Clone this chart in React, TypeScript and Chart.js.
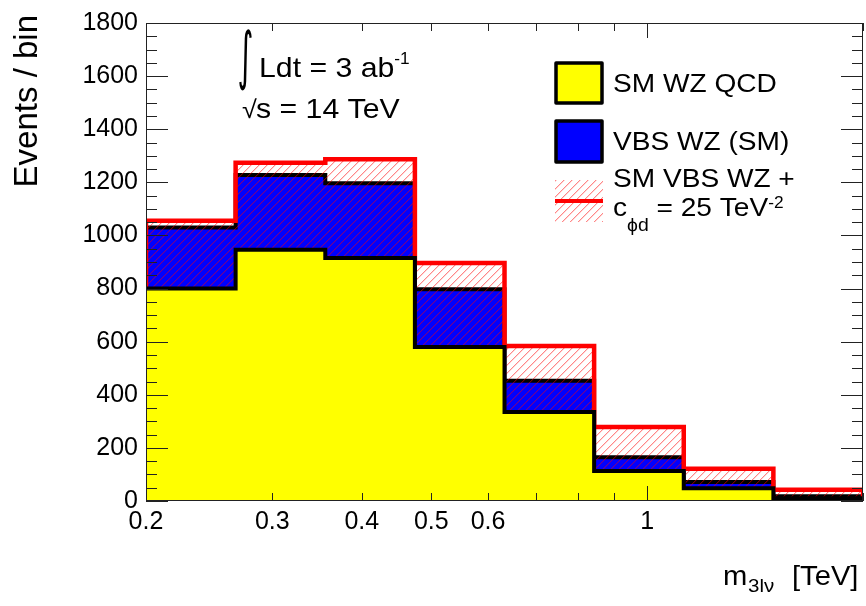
import React, { useEffect, useRef } from 'react';
import { Chart, registerables } from 'chart.js';

Chart.register(...registerables);

// ---- data ----
const binEdges = [0.2, 0.2667, 0.3557, 0.4743, 0.6325, 0.8434, 1.1247, 1.4998, 2.0];
const qcdWZ = [800, 946, 915, 580, 335, 113, 48, 10];
const vbsWZsm = [230, 282, 282, 217, 118, 52, 24, 8];
const vbsWZeft = [255, 328, 372, 316, 249, 166, 73, 32];
const xTickLabels = [0.2, 0.3, 0.4, 0.5, 0.6, 1];
const xMinorTicks = [0.3, 0.4, 0.5, 0.6, 0.7, 0.8, 0.9, 2];
const xMajorTicks = [1];
const yMin = 0;
const yMax = 1800;
const yMajorStep = 200;
const yMinorStep = 50;

const FONT = "'Liberation Sans', Arial, Helvetica, sans-serif";
const SX = 1.08;

type Seg = { s: string; size: number; dy?: number; x?: number };

function drawSegs(ctx: CanvasRenderingContext2D, x: number, y: number, segs: Seg[]) {
  let cx = x;
  for (const g of segs) {
    if (g.x !== undefined) cx = g.x;
    ctx.save();
    ctx.font = `${g.size}px ${FONT}`;
    ctx.textAlign = 'left';
    ctx.textBaseline = 'alphabetic';
    ctx.fillStyle = '#000';
    ctx.translate(cx, y + (g.dy || 0));
    ctx.scale(SX, 1);
    ctx.fillText(g.s, 0, 0);
    cx += ctx.measureText(g.s).width * SX;
    ctx.restore();
  }
  return cx;
}

function makeHatch(): CanvasPattern | string {
  const size = 8;
  const c = document.createElement('canvas');
  c.width = size;
  c.height = size;
  const g = c.getContext('2d');
  if (!g) return 'rgba(255,0,0,0.2)';
  const img = g.createImageData(size, size);
  const put = (px: number, py: number, a: number) => {
    const xx = ((px % size) + size) % size;
    const yy = ((py % size) + size) % size;
    const k = (yy * size + xx) * 4;
    img.data[k] = 255;
    img.data[k + 1] = 0;
    img.data[k + 2] = 0;
    img.data[k + 3] = Math.max(img.data[k + 3], a);
  };
  for (let i = 0; i < size; i++) {
    put(i, size - 1 - i, 120);
    put(i + 1, size - 1 - i, 40);
  }
  g.putImageData(img, 0, 0);
  return g.createPattern(c, 'repeat') || 'rgba(255,0,0,0.2)';
}

function histPts(vals: number[], closeLeft: boolean, closeRight: boolean) {
  const pts: { x: number; y: number }[] = [];
  const n = binEdges.length - 1;
  if (closeLeft) pts.push({ x: binEdges[0], y: 0 });
  vals.forEach((v, i) => pts.push({ x: binEdges[i], y: v }));
  pts.push({ x: binEdges[n], y: vals[vals.length - 1] });
  if (closeRight) pts.push({ x: binEdges[n], y: 0 });
  return pts;
}

export default function App() {
  const ref = useRef<HTMLCanvasElement>(null);

  useEffect(() => {
    const canvas = ref.current;
    if (!canvas) return;
    const hatch = makeHatch();
    const smTotal = qcdWZ.map((v, i) => v + vbsWZsm[i]);
    const eftTotal = qcdWZ.map((v, i) => v + vbsWZeft[i]);

    const rootStyle = {
      id: 'rootStyle',
      afterDatasetsDraw(chart: any) {
        const { ctx, chartArea: a, scales } = chart;
        const xs = scales.x;
        const ys = scales.y;
        ctx.save();
        ctx.strokeStyle = '#222';
        ctx.lineWidth = 1;
        for (let v = yMin; v <= yMax; v += yMinorStep) {
          const y = Math.round(ys.getPixelForValue(v)) + 0.5;
          const len = v % yMajorStep === 0 ? 22 : 11;
          ctx.beginPath();
          ctx.moveTo(a.left, y);
          ctx.lineTo(a.left + len, y);
          ctx.moveTo(a.right, y);
          ctx.lineTo(a.right - len, y);
          ctx.stroke();
        }
        const allX = [...xMinorTicks.map((v) => [v, 8]), ...xMajorTicks.map((v) => [v, 15])];
        for (const [v, len] of allX) {
          const x = Math.round(xs.getPixelForValue(v)) + 0.5;
          ctx.beginPath();
          ctx.moveTo(x, a.bottom);
          ctx.lineTo(x, a.bottom - len);
          ctx.moveTo(x, a.top);
          ctx.lineTo(x, a.top + len);
          ctx.stroke();
        }
        ctx.strokeRect(Math.round(a.left) + 0.5, Math.round(a.top) + 0.5,
          Math.round(a.right - a.left) - 1, Math.round(a.bottom - a.top) - 1);
        ctx.restore();
      },
      afterDraw(chart: any) {
        const ctx: CanvasRenderingContext2D = chart.ctx;
        ctx.save();
        // y axis title
        ctx.save();
        ctx.font = `33px ${FONT}`;
        ctx.fillStyle = '#000';
        ctx.textAlign = 'right';
        ctx.textBaseline = 'alphabetic';
        ctx.translate(37, 15);
        ctx.rotate(-Math.PI / 2);
        ctx.fillText('Events / bin', 0, 0);
        ctx.restore();

        // x axis title
        drawSegs(ctx, 723, 585, [
          { s: 'm', size: 27 },
          { s: '3lν', size: 19, dy: 7, x: 748 },
          { s: '[TeV]', size: 27, x: 792 },
        ]);

        // integral sign, fitted into its box
        ctx.save();
        ctx.font = `40px 'DejaVu Sans', ${FONT}`;
        const m = ctx.measureText('∫');
        const gh = m.actualBoundingBoxAscent + m.actualBoundingBoxDescent;
        const gw = m.actualBoundingBoxLeft + m.actualBoundingBoxRight;
        const tx0 = 239, tx1 = 252, ty0 = 28, ty1 = 91;
        ctx.translate(tx0, ty0);
        ctx.scale((tx1 - tx0) / gw, (ty1 - ty0) / gh);
        ctx.fillStyle = '#000';
        ctx.textBaseline = 'alphabetic';
        ctx.fillText('∫', m.actualBoundingBoxLeft, m.actualBoundingBoxAscent);
        ctx.restore();

        drawSegs(ctx, 259, 77, [
          { s: 'Ldt = 3 ab', size: 28 },
          { s: '-1', size: 16, dy: -13 },
        ]);
        drawSegs(ctx, 242, 118, [
          { s: '√', size: 25 },
          { s: 's = 14 TeV', size: 28, x: 256 },
        ]);

        // legend
        const bx = 556, bw = 46;
        ctx.lineWidth = 3.5;
        ctx.strokeStyle = '#000';
        ctx.lineJoin = 'round';
        ctx.fillStyle = '#ffff00';
        ctx.fillRect(bx, 63, bw, 40);
        ctx.strokeRect(bx, 63, bw, 40);
        ctx.fillStyle = '#0000ff';
        ctx.fillRect(bx, 121, bw, 41);
        ctx.strokeRect(bx, 121, bw, 41);
        ctx.fillStyle = hatch as any;
        ctx.fillRect(bx - 1, 180, bw + 2, 42);
        ctx.strokeStyle = '#ff0000';
        ctx.lineWidth = 4;
        ctx.beginPath();
        ctx.moveTo(bx - 1, 201);
        ctx.lineTo(bx + bw + 1, 201);
        ctx.stroke();

        const lx = 613;
        drawSegs(ctx, lx, 92, [{ s: 'SM WZ QCD', size: 26 }]);
        drawSegs(ctx, lx, 150, [{ s: 'VBS WZ (SM)', size: 26 }]);
        drawSegs(ctx, lx, 187, [{ s: 'SM VBS WZ +', size: 26 }]);
        drawSegs(ctx, lx, 216, [
          { s: 'c', size: 26 },
          { s: 'ϕd', size: 18, dy: 15 },
          { s: ' = 25 TeV', size: 26 },
          { s: '-2', size: 16, dy: -8 },
        ]);
        ctx.restore();
      },
    };

    const lineCommon = {
      stepped: 'before' as const,
      fill: 'origin' as const,
      pointRadius: 0,
      pointHoverRadius: 0,
      tension: 0,
      borderJoinStyle: 'miter' as const,
      borderCapStyle: 'butt' as const,
    };

    const chart = new Chart(canvas, {
      type: 'line',
      data: {
        datasets: [
          {
            ...lineCommon,
            label: 'SM WZ QCD',
            data: histPts(qcdWZ, false, false),
            backgroundColor: '#ffff00',
            borderColor: '#000000',
            borderWidth: 4,
          },
          {
            ...lineCommon,
            label: 'SM VBS WZ + c_phid = 25 TeV^-2',
            data: histPts(eftTotal, true, true),
            backgroundColor: hatch as any,
            borderColor: '#ff0000',
            borderWidth: 4.5,
          },
          {
            ...lineCommon,
            label: 'VBS WZ (SM)',
            data: histPts(smTotal, false, false),
            backgroundColor: '#0000ff',
            borderColor: '#000000',
            borderWidth: 4,
          },
        ],
      },
      options: {
        animation: false,
        responsive: true,
        maintainAspectRatio: false,
        layout: { padding: { top: 17, right: 3, left: 0, bottom: 0 } },
        plugins: { legend: { display: false }, tooltip: { enabled: false } },
        scales: {
          x: {
            type: 'logarithmic',
            min: binEdges[0],
            max: binEdges[binEdges.length - 1],
            grid: { display: false, drawTicks: false },
            border: { display: false },
            afterBuildTicks: (s: any) => {
              s.ticks = xTickLabels.map((v) => ({ value: v }));
            },
            afterFit: (s: any) => {
              s.height = 105;
            },
            ticks: {
              autoSkip: false,
              maxRotation: 0,
              minRotation: 0,
              padding: 6,
              color: '#000',
              font: { size: 25, family: FONT },
              callback: (v: any) => String(v),
            },
          },
          y: {
            type: 'linear',
            min: yMin,
            max: yMax,
            grid: { display: false, drawTicks: false },
            border: { display: false },
            afterFit: (s: any) => {
              s.width = 146;
            },
            ticks: {
              stepSize: yMajorStep,
              padding: 8,
              color: '#000',
              font: { size: 25, family: FONT },
              callback: (v: any) => String(v),
            },
          },
        },
      },
      plugins: [rootStyle],
    });
    return () => chart.destroy();
  }, []);

  return (
    <div style={{ position: 'absolute', left: 0, top: 0, width: 866, height: 606, background: '#fff' }}>
      <canvas ref={ref} />
    </div>
  );
}
